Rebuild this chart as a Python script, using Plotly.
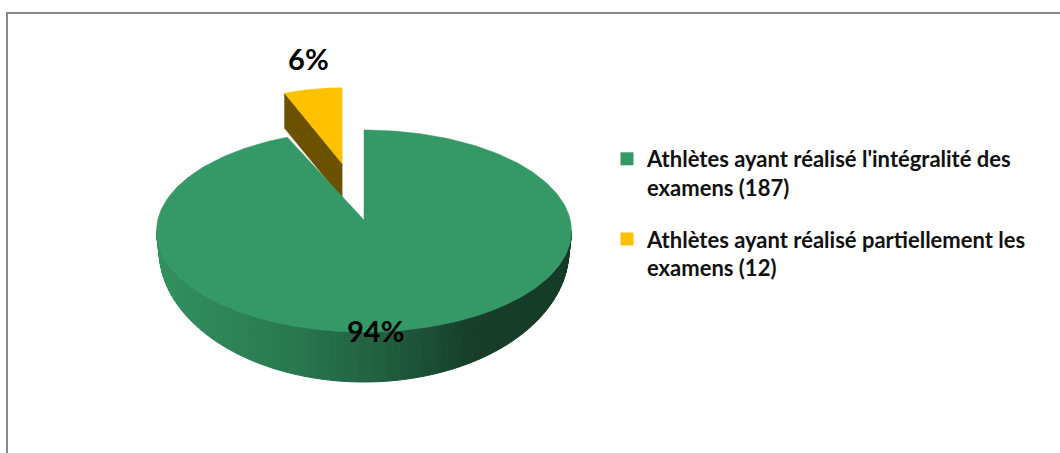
import numpy as np
import plotly.graph_objects as go

# ---- data ----
categories = [
    "Athlètes ayant réalisé l'intégralité des examens",
    "Athlètes ayant réalisé partiellement les examens",
]
counts = [187, 12]
legend_lines = [
    ["Athlètes ayant réalisé l'intégralité des", "examens (187)"],
    ["Athlètes ayant réalisé partiellement les", "examens (12)"],
]
top_colors = ["#349967", "#FFC000"]
wall_color = "#6A5200"

# ---- canvas / pie geometry (axis units = pixels) ----
W, H = 1060, 453
cx, cy, rx, ry = 364.0, 231.0, 207.5, 101.0      # top face ellipse
apex_lift = 11.0                                  # perspective shift of the pie centre
cyb, rxb, ryb = 250.0, 205.0, 132.0               # bottom rim ellipse
explode_x, explode_y = 0.56, 0.68                 # pull of the detached slice
small_scale = 0.75                                # perspective shrink of the detached slice
small_depth = 35.0

total = sum(counts)
fracs = [c / total for c in counts]
bounds = np.concatenate([[0.0], np.cumsum(fracs) * 360.0])


def ell(theta, x0, y0, ax, ay):
    t = np.radians(theta)
    return x0 + ax * np.sin(t), y0 - ay * np.cos(t)


def side_rgb(t):
    stops = [(0.0, (50, 145, 95)), (0.35, (40, 118, 78)), (0.55, (32, 94, 63)),
             (0.75, (22, 63, 42)), (1.0, (20, 58, 38))]
    for (t0, c0), (t1, c1) in zip(stops[:-1], stops[1:]):
        if t <= t1:
            u = (t - t0) / (t1 - t0)
            return "rgb(%d,%d,%d)" % tuple(round(a + (b - a) * u) for a, b in zip(c0, c1))
    return "rgb(%d,%d,%d)" % stops[-1][1]


fig = go.Figure()

# ---- detached small slice ----
a0, a1 = bounds[1], bounds[2]
am = (a0 + a1) / 2
vx = cx + explode_x * rx * np.sin(np.radians(am))
vy = cy - explode_y * ry * np.cos(np.radians(am))
th = np.linspace(a0, a1, 40)
ax_, ay_ = ell(th, vx, vy, small_scale * rx, small_scale * ry)
lx, ly = ax_[0], ay_[0]
fig.add_trace(go.Scatter(
    x=[vx, lx, lx, vx, vx], y=[vy, ly, ly + small_depth, vy + small_depth, vy],
    fill="toself", fillcolor=wall_color, mode="lines",
    line=dict(width=0.5, color=wall_color), showlegend=False, hoverinfo="skip"))
fig.add_trace(go.Scatter(
    x=np.concatenate([[vx], ax_, [vx]]), y=np.concatenate([[vy], ay_, [vy]]),
    fill="toself", fillcolor=top_colors[1], mode="lines",
    line=dict(width=0.5, color=top_colors[1]), showlegend=False, hoverinfo="skip"))

# ---- side wall of the large slice (front half, shaded strips) ----
g0, g1 = bounds[0], bounds[1]
lo, hi = max(90.0, g0), min(270.0, g1)
edges = np.linspace(lo, hi, 91)
for e0, e1 in zip(edges[:-1], edges[1:]):
    tt = np.linspace(e0, e1, 4)
    tx, ty = ell(tt, cx, cy, rx, ry)
    bx, by = ell(tt[::-1], cx, cyb, rxb, ryb)
    mx, _ = ell((e0 + e1) / 2, cx, cy, rx, ry)
    col = side_rgb((mx - (cx - rx)) / (2 * rx))
    fig.add_trace(go.Scatter(
        x=np.concatenate([tx, bx, tx[:1]]), y=np.concatenate([ty, by, ty[:1]]),
        fill="toself", fillcolor=col, mode="lines",
        line=dict(width=1, color=col), showlegend=False, hoverinfo="skip"))

# ---- top face of the large slice ----
th = np.linspace(g0, g1, 300)
gx, gy = ell(th, cx, cy, rx, ry)
px, py = cx, cy - apex_lift
fig.add_trace(go.Scatter(
    x=np.concatenate([[px], gx, [px]]), y=np.concatenate([[py], gy, [py]]),
    fill="toself", fillcolor=top_colors[0], mode="lines",
    line=dict(width=0.5, color=top_colors[0]), showlegend=False, hoverinfo="skip"))

# ---- percentage labels ----
gm = (g0 + g1) / 2
lab_big = (cx + 0.3 * rx * np.sin(np.radians(gm)), cy - 1.05 * ry * np.cos(np.radians(gm)))
lab_small = (vx + 1.15 * small_scale * rx * np.sin(np.radians(am)),
             vy - 1.35 * small_scale * ry * np.cos(np.radians(am)))
fig.add_trace(go.Scatter(
    x=[lab_big[0], lab_small[0]], y=[lab_big[1], lab_small[1]],
    mode="text", text=[f"{round(100 * f)}%" for f in fracs],
    textfont=dict(family="Lato, 'Open Sans', sans-serif", size=29, color="#000000", weight="bold"),
    showlegend=False, hoverinfo="skip"))

# ---- legend entries ----
for i, (cat, lines) in enumerate(zip(categories, legend_lines)):
    fig.add_trace(go.Scatter(
        x=[None], y=[None], mode="markers", name="<br>".join(lines),
        legendgroup=f"g{i}",
        marker=dict(symbol="square", size=13, color=top_colors[i]),
        hovertext=cat))

fig.update_layout(
    width=W, height=H,
    margin=dict(l=0, r=0, t=0, b=0),
    paper_bgcolor="white", plot_bgcolor="white",
    xaxis=dict(range=[0, W], visible=False, fixedrange=True),
    yaxis=dict(range=[H, 0], visible=False, fixedrange=True),
    legend=dict(
        x=607 / W, y=1 - 138 / H, xanchor="left", yanchor="top",
        font=dict(family="Lato, 'Open Sans', sans-serif", size=22, color="#111111", weight="bold"),
        valign="top", tracegroupgap=20, bgcolor="rgba(0,0,0,0)",
    ),
    shapes=[dict(
        type="rect", xref="paper", yref="paper",
        x0=7 / W, x1=1.02, y0=1 - 13 / H, y1=-0.02,
        line=dict(color="#8a8a8a", width=2), fillcolor="rgba(0,0,0,0)", layer="below",
    )],
)

fig.write_html("out.html")
